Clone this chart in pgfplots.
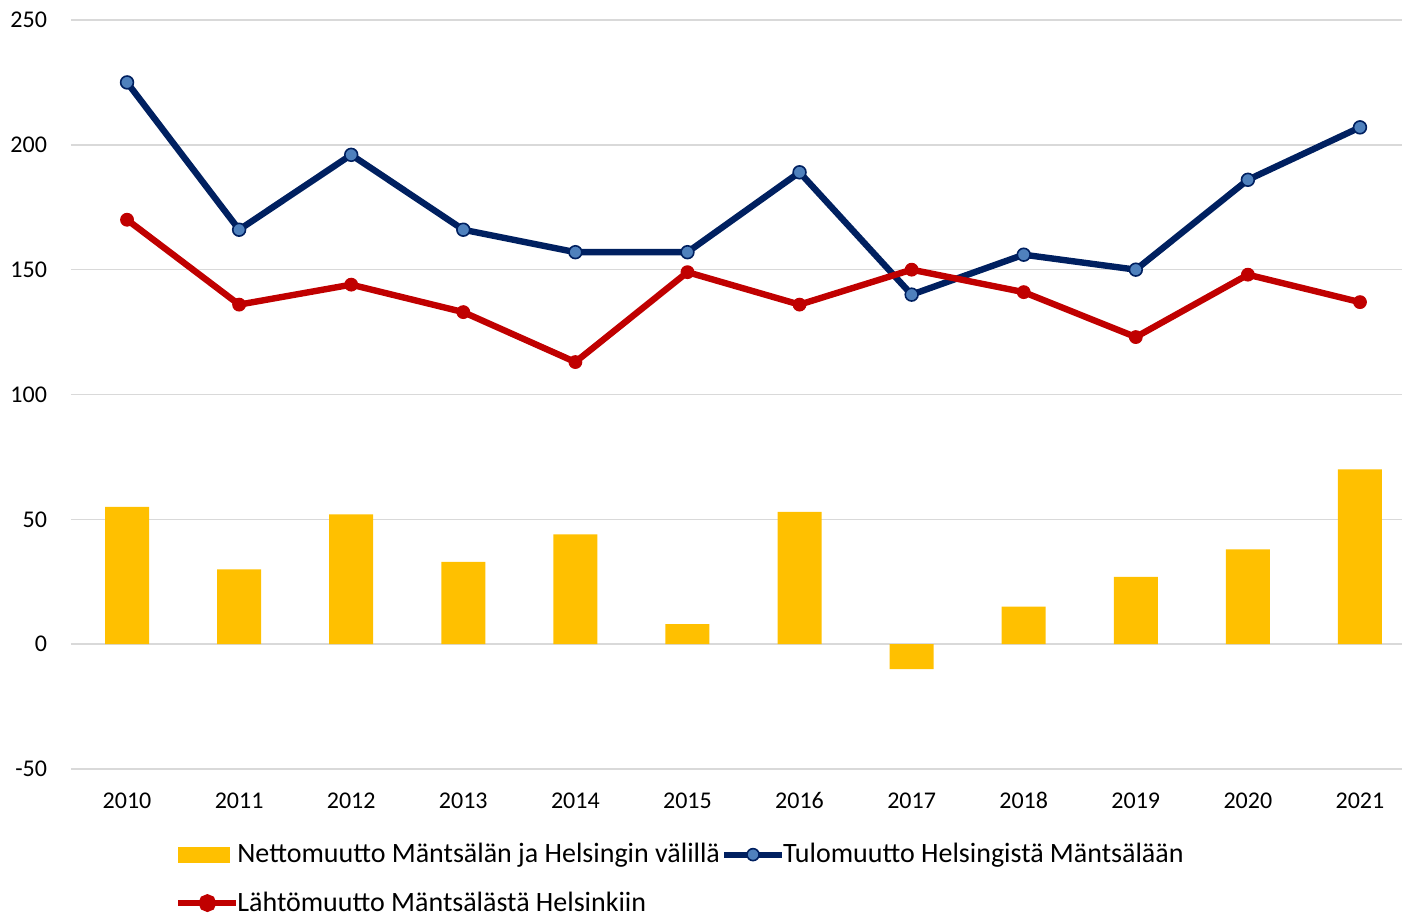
\documentclass[border=0pt]{standalone}
\usepackage{pgfplots}
\pgfplotsset{compat=1.18}
\usepackage{fontspec}
\setmainfont{Carlito}
\definecolor{barY}{HTML}{FFC000}
\definecolor{navy}{HTML}{002060}
\definecolor{lblue}{HTML}{4F81BD}
\definecolor{dred}{HTML}{C00000}
\definecolor{gridc}{HTML}{D9D9D9}
\begin{document}
\begin{tikzpicture}
\begin{axis}[
  at={(0,0)}, anchor=south west,
  scale only axis, width=665.5pt, height=374.5pt,
  xmin=-0.5, xmax=11.375, ymin=-50, ymax=250,
  xtick={0,...,11},
  xticklabels={2010,2011,2012,2013,2014,2015,2016,2017,2018,2019,2020,2021},
  ytick={-50,0,50,100,150,200,250},
  axis line style={draw=none},
  major tick length=0pt,
  ymajorgrids, grid style={gridc, line width=0.8pt},
  tick label style={font=\fontsize{12}{14}\selectfont, text=black},
  /pgf/number format/assume math mode=true,
  yticklabel style={xshift=-8.5pt},
  xticklabel style={anchor=base, yshift=-19.5pt},
  legend columns=2,
  legend cell align=left,
  legend style={at={(0,0)}, anchor=north west, xshift=52pt, yshift=-36.5pt,
    draw=none, fill=none, font=\fontsize{14}{17}\selectfont,
    row sep=12pt, inner sep=0pt, nodes={inner sep=0.5pt},
    /tikz/every even column/.append style={column sep=0pt},
    /tikz/every odd column/.append style={column sep=-1.5pt}},
]
\addplot[ybar, bar width=22pt, bar shift=0pt, fill=barY, draw=none,
  legend image code/.code={\fill[barY] (0pt,-4pt) rectangle (26pt,4pt);}]
  coordinates {(0,55) (1,30) (2,52) (3,33) (4,44) (5,8) (6,53) (7,-10) (8,15) (9,27) (10,38) (11,70)};
\addlegendentry{Nettomuutto Mäntsälän ja Helsingin välillä}
\addplot[navy, line width=3.2pt, mark=*, mark size=3.2pt,
  mark options={fill=lblue, draw=navy, line width=0.8pt},
  legend image code/.code={\draw[navy, line width=3pt] (0pt,0pt) -- (29pt,0pt);
    \fill[lblue, draw=navy, line width=0.8pt] (14.5pt,0pt) circle (3pt);}]
  coordinates {(0,225) (1,166) (2,196) (3,166) (4,157) (5,157) (6,189) (7,140) (8,156) (9,150) (10,186) (11,207)};
\addlegendentry{Tulomuutto Helsingistä Mäntsälään}
\addplot[dred, line width=3.2pt, mark=*, mark size=3.2pt,
  mark options={fill=dred, draw=dred, line width=0.5pt},
  legend image code/.code={\draw[dred, line width=3pt] (0pt,0pt) -- (29pt,0pt);
    \fill[dred] (14.5pt,0pt) circle (2.8pt);}]
  coordinates {(0,170) (1,136) (2,144) (3,133) (4,113) (5,149) (6,136) (7,150) (8,141) (9,123) (10,148) (11,137)};
\addlegendentry{Lähtömuutto Mäntsälästä Helsinkiin}
\end{axis}
\pgfresetboundingbox
\path (-35.5pt,-73.5pt) rectangle (665.5pt,384.5pt);
\end{tikzpicture}
\end{document}
